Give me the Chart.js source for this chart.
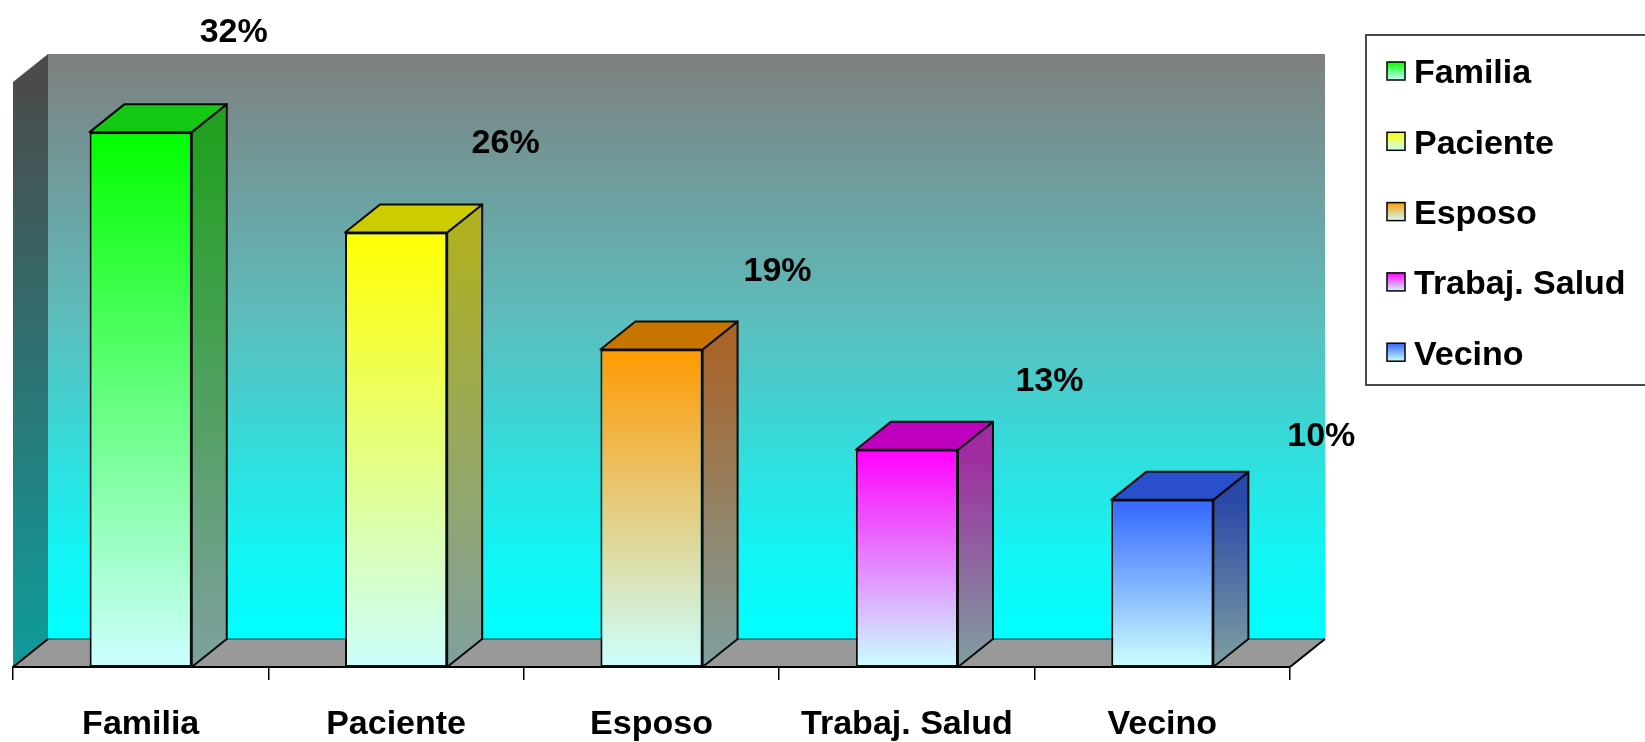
<!DOCTYPE html>
<html><head><meta charset="utf-8">
<script src="https://cdn.jsdelivr.net/npm/chart.js@4/dist/chart.umd.min.js"></script>
<style>html,body{margin:0;padding:0;background:#fff;} #wrap{width:1645px;height:742px;position:relative;}</style>
</head><body><div id="wrap"><canvas id="c"></canvas></div>
<script>
const categories = ['Familia', 'Paciente', 'Esposo', 'Trabaj. Salud', 'Vecino'];
const values = [32, 26, 19, 13, 10];
const valueLabels = ['32%', '26%', '19%', '13%', '10%'];

const frontColors = ['#00ff00', '#ffff00', '#ff9900', '#ff00ff', '#3366ff'];
const topColors = ['#14c814', '#cccc00', '#c87400', '#bf00bf', '#2a4fcc'];
const sideColors = ['#22a022', '#b0b020', '#a8642a', '#a02aa0', '#2a48a8'];
const LIGHT = '#ccffff';
const SIDE_BOTTOM = '#7fa0a0';
const FONT = '"Liberation Sans", Arial, Helvetica, sans-serif';
const DX = 35, DY = -28;

const box3d = {
  id: 'box3d',
  beforeDraw(chart) {
    const { ctx, chartArea: a } = chart;
    const L = a.left, R = a.right, T = a.top, B = a.bottom;
    ctx.save();
    let g = ctx.createLinearGradient(0, T + DY, 0, B + DY);
    g.addColorStop(0, '#7f7f7f');
    g.addColorStop(0.45, '#5ebcbc');
    g.addColorStop(0.85, '#14f4f4');
    g.addColorStop(1, '#00ffff');
    ctx.fillStyle = g;
    ctx.fillRect(L + DX, T + DY, R - L, B - T);
    g = ctx.createLinearGradient(0, T, 0, B);
    g.addColorStop(0, '#4b4b4b');
    g.addColorStop(1, '#0f9c9c');
    ctx.fillStyle = g;
    ctx.beginPath();
    ctx.moveTo(L, T); ctx.lineTo(L + DX, T + DY); ctx.lineTo(L + DX, B + DY); ctx.lineTo(L, B);
    ctx.closePath(); ctx.fill();
    ctx.fillStyle = '#999999';
    ctx.beginPath();
    ctx.moveTo(L, B); ctx.lineTo(L + DX, B + DY); ctx.lineTo(R + DX, B + DY); ctx.lineTo(R, B);
    ctx.closePath(); ctx.fill();
    ctx.strokeStyle = '#333'; ctx.lineWidth = 1;
    ctx.beginPath(); ctx.moveTo(L + DX, B + DY); ctx.lineTo(R + DX, B + DY); ctx.stroke();
    ctx.strokeStyle = '#000'; ctx.lineWidth = 2;
    ctx.beginPath(); ctx.moveTo(L, B); ctx.lineTo(L + DX, B + DY); ctx.stroke();
    ctx.beginPath(); ctx.moveTo(R, B); ctx.lineTo(R + DX, B + DY); ctx.stroke();
    ctx.restore();
  },
  afterDatasetsDraw(chart) {
    const { ctx } = chart;
    const meta = chart.getDatasetMeta(0);
    const yS = chart.scales.y;
    ctx.save();
    ctx.lineWidth = 2;
    ctx.strokeStyle = '#0a0a0a';
    ctx.lineJoin = 'round';
    meta.data.forEach((el, i) => {
      const p = el.getProps(['x', 'y', 'base', 'width'], true);
      const xl = p.x - p.width / 2, xr = p.x + p.width / 2, yt = p.y, yb = p.base;
      let g = ctx.createLinearGradient(0, yt, 0, yb);
      g.addColorStop(0, sideColors[i]);
      g.addColorStop(1, SIDE_BOTTOM);
      ctx.fillStyle = g;
      ctx.beginPath();
      ctx.moveTo(xr, yt); ctx.lineTo(xr + DX, yt + DY); ctx.lineTo(xr + DX, yb + DY); ctx.lineTo(xr, yb);
      ctx.closePath(); ctx.fill(); ctx.stroke();
      ctx.fillStyle = topColors[i];
      ctx.beginPath();
      ctx.moveTo(xl, yt); ctx.lineTo(xl + DX, yt + DY); ctx.lineTo(xr + DX, yt + DY); ctx.lineTo(xr, yt);
      ctx.closePath(); ctx.fill(); ctx.stroke();
      ctx.fillStyle = '#000';
      ctx.font = 'bold 34px ' + FONT;
      ctx.textAlign = 'center';
      ctx.textBaseline = 'middle';
      ctx.fillText(valueLabels[i], p.x + 93 + 16.5 * i, yS.getPixelForValue(values[i] * 1.097 + 3.0) + 3);
    });
    ctx.restore();
  },
  afterDraw(chart) {
    const { ctx } = chart;
    ctx.save();
    ctx.strokeStyle = '#4a4a4a';
    ctx.lineWidth = 2;
    ctx.strokeRect(1366, 35, 320, 350);
    categories.forEach((c, i) => {
      const cy = 71 + i * 70.3;
      const g = ctx.createLinearGradient(0, cy - 9, 0, cy + 9);
      g.addColorStop(0, frontColors[i]);
      g.addColorStop(1, LIGHT);
      ctx.fillStyle = g;
      ctx.fillRect(1387, cy - 9, 18, 18);
      ctx.strokeStyle = '#000'; ctx.lineWidth = 1.5;
      ctx.strokeRect(1387, cy - 9, 18, 18);
      ctx.fillStyle = '#000';
      ctx.font = 'bold 34px ' + FONT;
      ctx.textAlign = 'left';
      ctx.textBaseline = 'middle';
      ctx.fillText(c, 1414, cy + 3);
    });
    ctx.restore();
  }
};

new Chart(document.getElementById('c'), {
  type: 'bar',
  data: {
    labels: categories,
    datasets: [{
      label: 'Porcentaje',
      data: values,
      backgroundColor: (c) => {
        const chart = c.chart, a = chart.chartArea;
        if (!a || c.type !== 'data') return frontColors[c.dataIndex || 0];
        const yS = chart.scales.y;
        const g = chart.ctx.createLinearGradient(0, yS.getPixelForValue(c.raw), 0, yS.getPixelForValue(0));
        g.addColorStop(0, frontColors[c.dataIndex]);
        g.addColorStop(1, LIGHT);
        return g;
      },
      borderColor: '#0a0a0a',
      borderWidth: 2,
      borderSkipped: false,
      barPercentage: 0.4,
      categoryPercentage: 1.0
    }]
  },
  options: {
    responsive: true,
    maintainAspectRatio: false,
    animation: false,
    layout: { padding: { left: 13, right: 355, top: 82, bottom: 0 } },
    plugins: { legend: { display: false }, tooltip: { enabled: false } },
    scales: {
      y: { display: false, min: 0, max: 35 },
      x: {
        afterFit: (s) => { s.height = 75; },
        grid: { display: true, drawOnChartArea: false, drawTicks: true, tickLength: 13, color: '#000', lineWidth: 1.5, offset: true },
        border: { display: true, color: '#000', width: 2 },
        ticks: { color: '#000', padding: 24, font: { family: FONT, size: 34, weight: 'bold' } }
      }
    }
  },
  plugins: [box3d]
});
</script>
</body></html>
